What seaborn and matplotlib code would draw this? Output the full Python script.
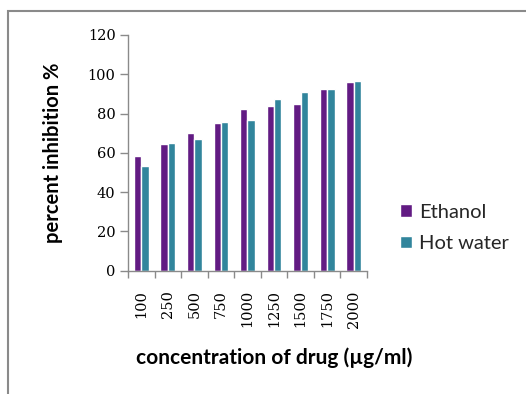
import pandas as pd
import seaborn as sns
import matplotlib.pyplot as plt
from matplotlib.patches import Rectangle
from matplotlib.ticker import FixedLocator

OUTPUT_PATH = "out.png"

CONCENTRATIONS = ["100", "250", "500", "750", "1000", "1250", "1500", "1750", "2000"]
ETHANOL = [58.6, 64.5, 70.1, 75.0, 82.3, 83.9, 84.9, 92.7, 95.9]
HOT_WATER = [53.1, 65.0, 66.9, 75.6, 76.7, 87.3, 91.0, 92.7, 96.6]
SERIES = ["Ethanol", "Hot water"]
COLORS = ["#621b83", "#31859c"]
Y_TICKS = [0, 20, 40, 60, 80, 100, 120]


def main() -> None:
    df = pd.DataFrame({
        "Concentration": CONCENTRATIONS * 2,
        "Inhibition": ETHANOL + HOT_WATER,
        "Extract": [SERIES[0]] * len(ETHANOL) + [SERIES[1]] * len(HOT_WATER),
    })

    sns.set_theme(style="white")
    plt.rcParams["font.family"] = ["Lato", "DejaVu Sans"]

    fig = plt.figure(figsize=(5.26, 3.94), dpi=100)
    ax = fig.add_axes([128 / 526, 1 - 270.7 / 394, 239 / 526, 235.7 / 394])

    sns.barplot(
        data=df,
        x="Concentration",
        y="Inhibition",
        hue="Extract",
        order=CONCENTRATIONS,
        hue_order=SERIES,
        palette=COLORS,
        width=0.56,
        saturation=1,
        ax=ax,
    )

    # Excel-style frame round the whole picture
    fig.patches.append(Rectangle((8 / 526, -0.1), 1.2, 1 - 11 / 394 + 0.1,
                                 transform=fig.transFigure, fill=False,
                                 edgecolor="#8a8a8a", linewidth=1.5))

    ax.set_ylim(0, 120)
    ax.set_xlim(-0.5, len(CONCENTRATIONS) - 0.5)
    ax.set_yticks(Y_TICKS)
    for side in ["top", "right"]:
        ax.spines[side].set_visible(False)
    for side in ["left", "bottom"]:
        ax.spines[side].set_color("#8a8a8a")
        ax.spines[side].set_linewidth(1.0)

    ax.tick_params(axis="y", which="major", length=6, width=1, color="#8a8a8a",
                   left=True, pad=3)
    ax.tick_params(axis="x", which="major", length=0, pad=14)
    ax.xaxis.set_minor_locator(FixedLocator([i - 0.5 for i in range(len(CONCENTRATIONS) + 1)]))
    ax.tick_params(axis="x", which="minor", length=5, width=1, color="#8a8a8a", bottom=True)

    for lab in ax.get_yticklabels():
        lab.set_fontfamily("DejaVu Serif")
        lab.set_fontsize(10.5)
        lab.set_color("black")
    for lab in ax.get_xticklabels():
        lab.set_fontfamily("DejaVu Serif")
        lab.set_fontsize(10.5)
        lab.set_color("black")
        lab.set_rotation(90)

    ax.set_xlabel("concentration of drug (µg/ml)", fontsize=15, fontweight="bold",
                  color="black", va="center")
    ax.xaxis.set_label_coords((274 - 128) / 239, (270.7 - 358) / 235.7)
    ax.set_ylabel("percent inhibition %", fontsize=14.5, fontweight="bold",
                  color="black", va="center")
    ax.yaxis.set_label_coords((53 - 128) / 239, 0.5)

    ax.legend(loc="center left", bbox_to_anchor=((400 - 128) / 239, (270.7 - 228) / 235.7),
              frameon=False, fontsize=14.5, handlelength=0.6, handleheight=0.6,
              handletextpad=0.35, labelspacing=0.7, borderaxespad=0, borderpad=0)

    fig.savefig(OUTPUT_PATH, dpi=100)
    plt.close(fig)


if __name__ == "__main__":
    main()
